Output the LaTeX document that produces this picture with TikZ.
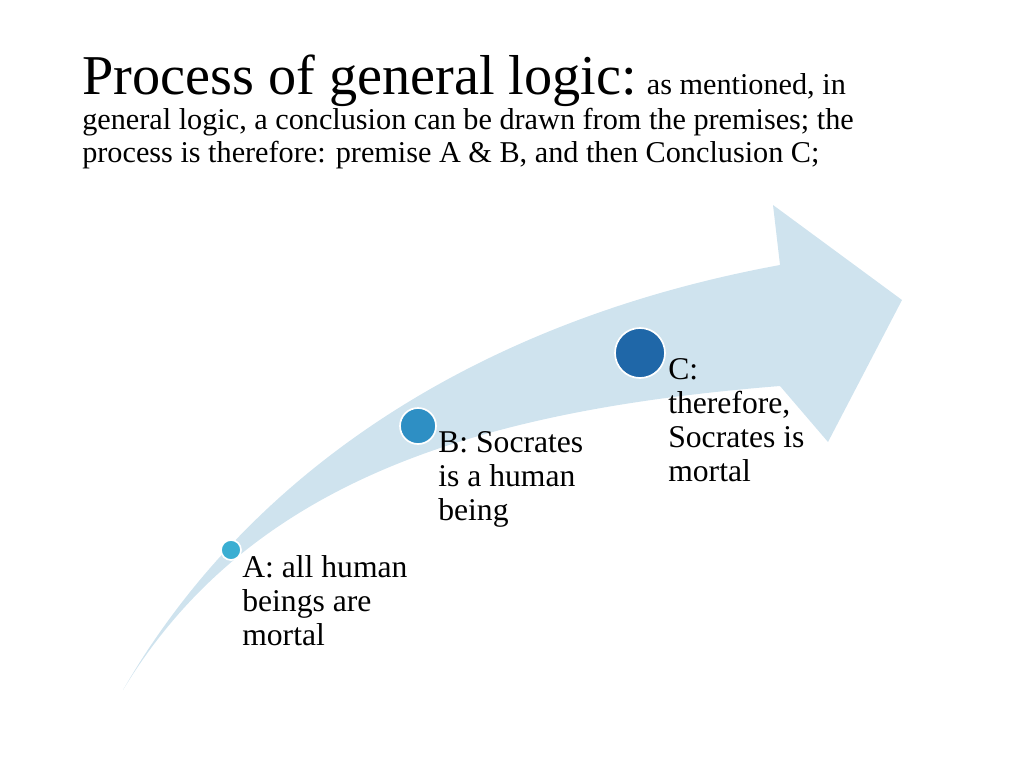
\documentclass[tikz,border=0pt]{standalone}
\usepackage{fontspec}
\setmainfont{Liberation Serif}
\usetikzlibrary{positioning}
\definecolor{arrowfill}{HTML}{CFE3EE}
\definecolor{dotA}{HTML}{3AAED2}
\definecolor{dotB}{HTML}{2E8FC4}
\definecolor{dotC}{HTML}{1F67A8}
\begin{document}
\begin{tikzpicture}[x=0.025cm,y=-0.025cm,
  dot/.style={circle,draw=white,line width=1.2pt,inner sep=0pt},
  step label/.style={anchor=north west,align=left,font=\fontsize{22.5}{24.3}\selectfont,inner sep=0pt}]
\useasboundingbox (0,0) rectangle (1024,768);
% heading
\node[anchor=north west,align=left,inner sep=0pt,font=\fontsize{21.5}{23.6}\selectfont] (title) at (82,55)
  {{\fontsize{40}{40}\selectfont Process of general logic:} as mentioned, in\\
   general logic, a conclusion can be drawn from the premises; the\\
   process is therefore: premise A \& B, and then Conclusion C;};
% big arrow
\fill[arrowfill] (123,690) .. controls (250,470) and (480,320) .. (780,265)
  -- (773,205) -- (902,300) -- (828,442) -- (780,386)
  .. controls (480,410) and (250,480) .. cycle;
% steps
\node[dot,fill=dotA,minimum size=0.5cm] (a) at (231,550) {};
\node[dot,fill=dotB,minimum size=0.9cm] (b) at (418,426) {};
\node[dot,fill=dotC,minimum size=1.25cm] (c) at (640,353) {};
\node[step label] (atext) at (242,555) {A: all human\\beings are\\mortal};
\node[step label] (btext) at (438,431) {B: Socrates\\is a human\\being};
\node[step label] (ctext) at (668,358) {C:\\therefore,\\Socrates is\\mortal};
\end{tikzpicture}
\end{document}
